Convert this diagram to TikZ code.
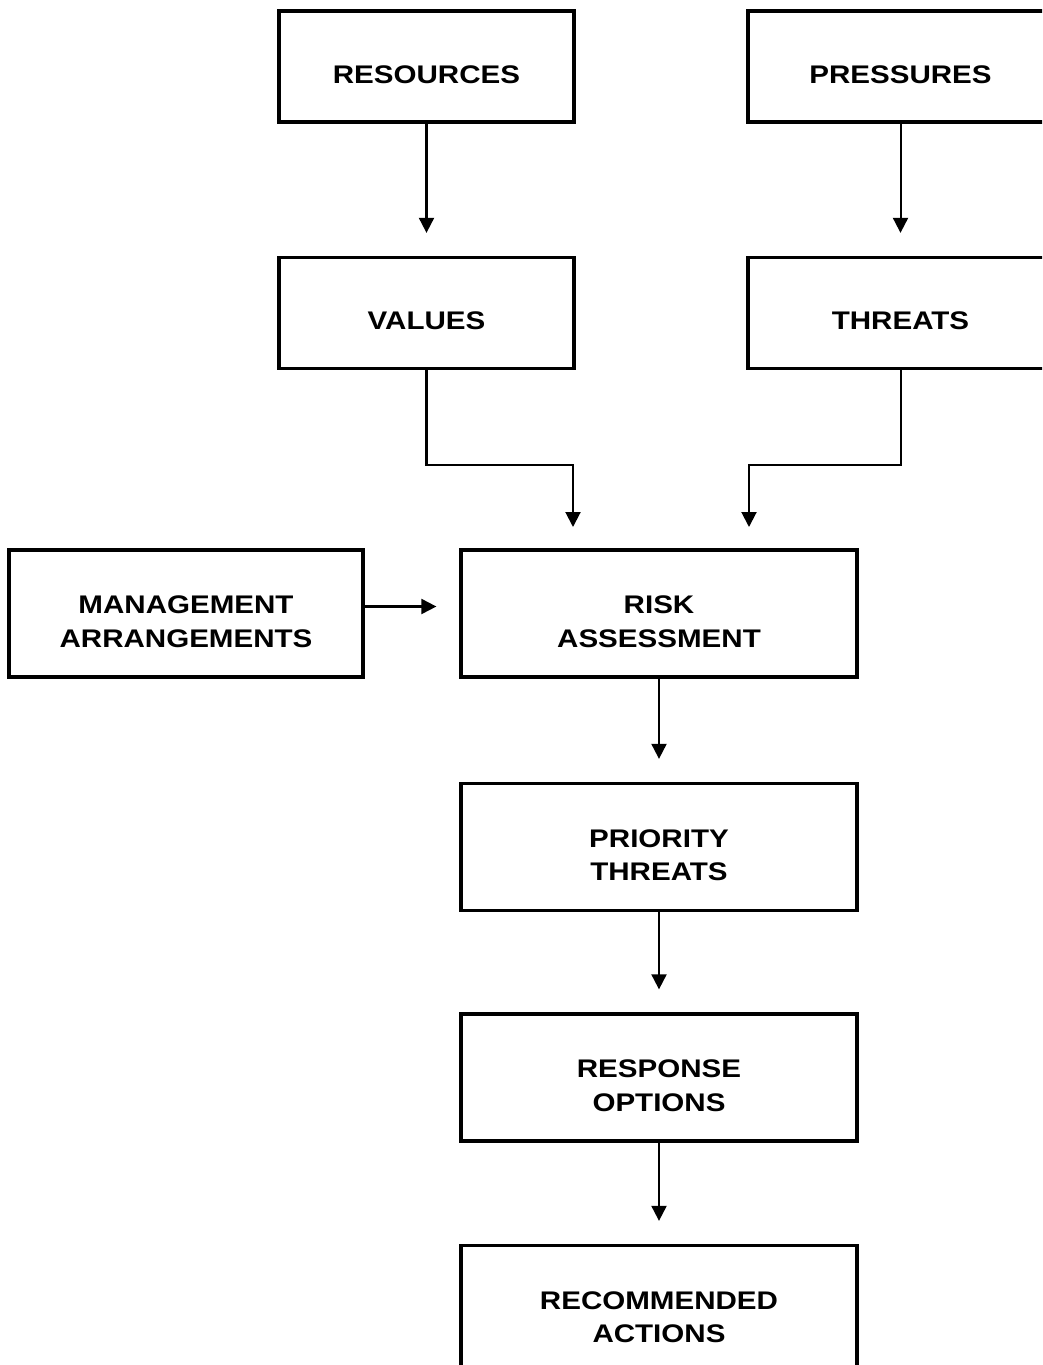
\documentclass[tikz,border=0pt]{standalone}
\usepackage{fontspec}
\setmainfont{Liberation Sans}[FakeStretch=1.16]
\usetikzlibrary{arrows.meta}
% text sits a little below the middle of each box
\newcommand{\boxtext}[1]{\raisebox{-0.33cm}[0pt][0pt]{\begin{tabular}{@{}c@{}}#1\end{tabular}}}
\tikzset{
	box/.style = {draw=black, line width=1.9pt, minimum width=5.9cm, minimum height=2.22cm, inner sep=0pt, font=\fontsize{14.5}{19.3}\selectfont\bfseries},
	rbox/.style = {minimum width=6.1cm},
	wide/.style = {minimum width=7.92cm, minimum height=2.54cm},
	mgmtbox/.style = {minimum width=7.08cm, minimum height=2.54cm},
	arr/.style = {line width=1.15pt, -{Triangle[length=0.3cm,width=0.3cm]}, shorten >=0.46cm}
}

\begin{document}
\begin{tikzpicture}[x=0.02cm, y=-0.02cm]
		% frame
		\useasboundingbox (0,0) rectangle (1042,1365);
		\clip (0,0) rectangle (1042,1365);
		
		% top row
		\node[box] (res) at (426.5,66.5) {\boxtext{RESOURCES}};
		\node[box, rbox] (pres) at (900.5,66.5) {\boxtext{PRESSURES}};
		\node[box] (val) at (426.5,313) {\boxtext{VALUES}};
		\node[box, rbox] (thr) at (900.5,313) {\boxtext{THREATS}};
		
		% middle
		\node[box, mgmtbox] (mgmt) at (186,613.5) {\boxtext{MANAGEMENT\\ARRANGEMENTS}};
		\node[box, wide] (risk) at (659,613.5) {\boxtext{RISK\\ASSESSMENT}};
		\coordinate (inL) at (573,550);
		\coordinate (inR) at (749,550);
		
		% chain
		\node[box, wide] (prio) at (659,847) {\boxtext{PRIORITY\\THREATS}};
		\node[box, wide] (resp) at (659,1077.5) {\boxtext{RESPONSE\\OPTIONS}};
		\node[box, wide] (rec) at (659,1309) {\boxtext{RECOMMENDED\\ACTIONS}};
		
		% arrows
		\draw[arr] (res) -- (val);
		\draw[arr] (pres) -- (thr);
		\draw[arr] (val.south) -- ++(0,95) -| (inL);
		\draw[arr] (thr.south) -- ++(0,95) -| (inR);
		\draw[arr] ([yshift=0.14cm]mgmt.east) -- ([yshift=0.14cm]risk.west);
		\draw[arr] (risk) -- (prio);
		\draw[arr] (prio) -- (resp);
		\draw[arr] (resp) -- (rec);
	\end{tikzpicture}
\end{document}
